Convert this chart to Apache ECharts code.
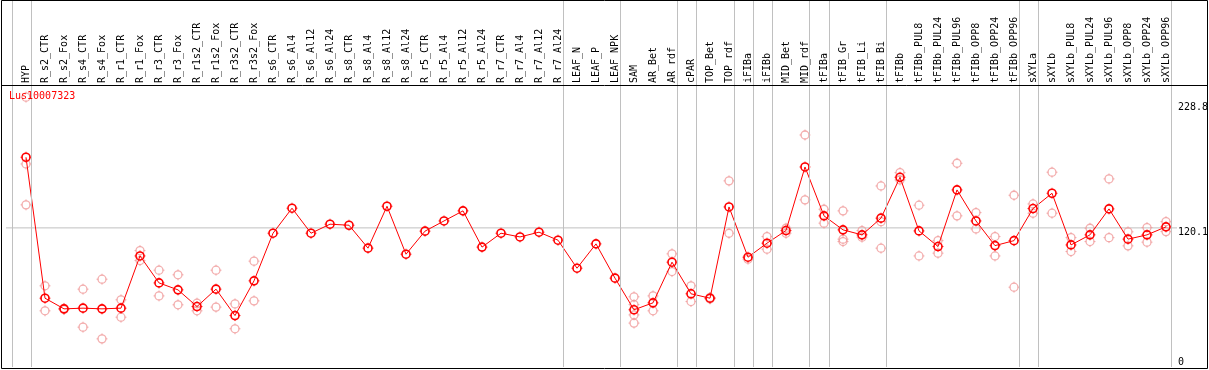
<!DOCTYPE html>
<html>
<head>
<meta charset="utf-8">
<script src="https://cdn.jsdelivr.net/npm/echarts@6/dist/echarts.min.js"></script>
<style>
html,body{margin:0;padding:0;background:#fff;}
#chart{width:1209px;height:370px;}
</style>
</head>
<body>
<div id="chart"></div>
<script>
const titleText = 'Lus10007323';
const categories = ['HYP','R_s2_CTR','R_s2_Fox','R_s4_CTR','R_s4_Fox','R_r1_CTR','R_r1_Fox','R_r3_CTR','R_r3_Fox','R_r1s2_CTR','R_r1s2_Fox','R_r3s2_CTR','R_r3s2_Fox','R_s6_CTR','R_s6_Al4','R_s6_Al12','R_s6_Al24','R_s8_CTR','R_s8_Al4','R_s8_Al12','R_s8_Al24','R_r5_CTR','R_r5_Al4','R_r5_Al12','R_r5_Al24','R_r7_CTR','R_r7_Al4','R_r7_Al12','R_r7_Al24','LEAF_N','LEAF_P','LEAF_NPK','SAM','AR_Bet','AR_rdf','cPAR','TOP_Bet','TOP_rdf','iFIBa','iFIBb','MID_Bet','MID_rdf','tFIBa','tFIB_Gr','tFIB_Li','tFIB_Bi','tFIBb','tFIBb_PUL8','tFIBb_PUL24','tFIBb_PUL96','tFIBb_OPP8','tFIBb_OPP24','tFIBb_OPP96','sXYLa','sXYLb','sXYLb_PUL8','sXYLb_PUL24','sXYLb_PUL96','sXYLb_OPP8','sXYLb_OPP24','sXYLb_OPP96'];
const means = [181.1,59.4,50.2,50.8,50.2,50.8,95.9,72.6,66.6,52.2,67.2,44.4,74.4,115.5,137.1,115.5,123.3,122.4,102.6,138.8,97.4,117.3,126.1,134.8,103.5,115.5,112.3,116.4,109.5,85.3,106.3,76.7,49.4,55.4,90.5,63.2,59.4,138.2,94.8,106.9,117.8,172.7,130.5,118.4,114.1,128.5,163.8,117.5,104.0,152.9,126.1,104.8,109.1,136.8,150.0,105.4,114.1,136.5,110.4,114.1,121.0];
const rep1 = [233.0,70.1,50.6,67.2,75.8,58.0,100.5,83.6,79.6,55.1,83.6,54.5,91.4,null,null,null,null,null,null,null,null,null,null,null,null,null,null,null,null,null,null,null,60.6,61.4,97.7,70.1,60.0,160.7,93.1,112.6,119.8,200.3,136.2,134.8,117.8,156.3,167.8,139.7,109.1,175.9,133.3,112.6,148.3,140.8,168.2,111.7,119.8,162.4,116.7,120.4,125.5];
const rep2 = [175.3,48.5,49.6,34.4,24.3,43.0,91.9,61.4,53.7,48.5,51.7,33.0,57.1,null,null,null,null,null,null,null,null,null,null,null,null,null,null,null,null,null,null,null,53.9,48.5,82.4,56.5,58.8,115.5,null,101.7,115.5,144.3,124.2,110.4,112.1,125.5,161.5,95.9,98.3,130.5,119.2,95.9,68.9,132.8,132.8,99.7,108.3,111.7,104.6,107.8,116.9];
const rep3 = {0:140.0, 32:45.0, 43:108.3, 45:102.6};
const rep4 = {32:37.9};
const groupEnds = [-1,0,28,31,34,35,37,38,39,41,42,45,52,53,60];
const yTopLabels = [120.1, 228.8];
const yBottomLabels = [0];
const refValue = 120.1;

const chart = echarts.init(document.getElementById('chart'), null, {renderer:'canvas'});
const FONT = 'DejaVu Sans Mono';
const ticks = 'path://M6,0L6,2M6,10L6,12M0,6L2,6M10,6L12,6';
const yMax = 228.8 * 367 / 265;

function repPoints(arr){
  const out = [];
  if (Array.isArray(arr)) arr.forEach((v,i)=>{ if(v!=null) out.push([i,v]); });
  else Object.keys(arr).forEach(k=>out.push([+k, arr[k]]));
  return out;
}
const repData = [].concat(repPoints(rep1), repPoints(rep2), repPoints(rep3), repPoints(rep4));
const meanData = means.map((v,i)=>[i,v]);
const REP = '#f09a9a', RED = '#ff0000';

const option = {
  animation:false,
  backgroundColor:'#fff',
  title:{text:titleText,left:9,top:91,padding:0,textStyle:{color:RED,fontFamily:FONT,fontSize:10,fontWeight:'normal'}},
  grid:{left:7,right:24,top:0,bottom:3,outerBoundsMode:'none',containLabel:false},
  xAxis:{type:'value',min:-1,max:61,interval:1,position:'top',offset:-85,
    axisLine:{show:false},axisTick:{show:false},splitLine:{show:false},
    axisLabel:{rotate:90,margin:2,color:'#000',fontFamily:FONT,fontSize:10,
      formatter:function(v){const i=Math.round(v);return (i>=0&&i<categories.length)?categories[i]:'';}}},
  yAxis:[
    {type:'value',min:0,max:yMax,position:'right',offset:-8,
      axisLine:{show:false},axisTick:{show:false},splitLine:{show:false},
      axisLabel:{customValues:yTopLabels,margin:1,verticalAlign:'top',align:'left',color:'#000',fontFamily:FONT,fontSize:10,
        formatter:function(v){return String(v);}}},
    {type:'value',min:0,max:yMax,position:'right',offset:-8,
      axisLine:{show:false},axisTick:{show:false},splitLine:{show:false},
      axisLabel:{customValues:yBottomLabels,margin:1,verticalAlign:'bottom',align:'left',color:'#000',fontFamily:FONT,fontSize:10,
        formatter:function(v){return String(v);}}}
  ],
  graphic:[
    {type:'rect',shape:{x:1.5,y:0.5,width:1206,height:368},style:{fill:'none',stroke:'#000',lineWidth:1},z:100},
    {type:'line',shape:{x1:1,y1:85.5,x2:1208,y2:85.5},style:{stroke:'#000',lineWidth:1},z:100}
  ],
  series:[
    {type:'line',data:[[-1.26,refValue],[60.58,refValue]],clip:false,symbol:'none',silent:true,
      lineStyle:{color:'#c0c0c0',width:1},z:1,
      markLine:{silent:true,symbol:'none',label:{show:false},animation:false,
        lineStyle:{color:'#c0c0c0',width:1,type:'solid'},
        data:groupEnds.map(g=>({xAxis:g+0.247}))}},
    {type:'scatter',data:repData,symbol:'circle',symbolSize:8,z:2,
      itemStyle:{color:'rgba(0,0,0,0)',borderColor:REP,borderWidth:1.3}},
    {type:'scatter',data:repData,symbol:ticks,symbolSize:11,z:2,
      itemStyle:{color:'rgba(0,0,0,0)',borderColor:REP,borderWidth:1}},
    {type:'line',data:meanData,symbol:'circle',symbolSize:8,showAllSymbol:true,z:3,
      lineStyle:{color:RED,width:1},
      itemStyle:{color:'rgba(0,0,0,0)',borderColor:RED,borderWidth:1.6}},
    {type:'scatter',data:meanData,symbol:ticks,symbolSize:11,z:3,
      itemStyle:{color:'rgba(0,0,0,0)',borderColor:RED,borderWidth:1}}
  ]
};
chart.setOption(option);
</script>
</body>
</html>
